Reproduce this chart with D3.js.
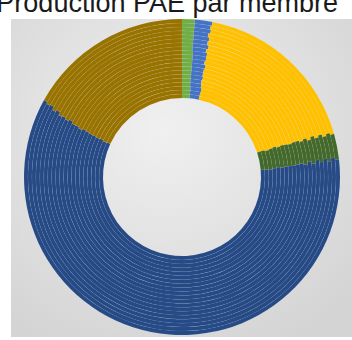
<!DOCTYPE html>
<html>
<head>
<meta charset="utf-8">
<script src="https://cdn.jsdelivr.net/npm/d3@7"></script>
<style>
    body { margin: 0; background: #ffffff; }
    svg { display: block; }
</style>
</head>
<body>
<div class="canvas"></div>
<script>
// one entry per member, drawn clockwise from 12 o'clock
const membres = ["Membre 1", "Membre 2", "Membre 3", "Membre 4", "Membre 5", "Membre 6"];
const couleurs = ["#70AD47", "#4472C4", "#FFC000", "#43682B", "#264A86", "#997300"];

// share (%) of each member, one value per ring, innermost ring first
const membre1 = [1.5, 1.5, 1.5, 1.4, 1.4, 1.4, 1.4, 1.4, 1.4, 1.4, 1.4, 1.4, 1.3, 1.3, 1.3, 1.3, 1.3, 1.3, 1.3, 1.3];
const membre2 = [1.9, 1.9, 2.0, 1.9, 1.8, 1.9, 1.8, 1.8, 1.9, 1.7, 1.8, 1.8, 1.7, 1.9, 1.7, 1.8, 1.6, 1.8, 1.7, 1.8];
const membre3 = [16.6, 16.6, 16.7, 16.8, 16.8, 16.9, 16.9, 17.0, 17.0, 17.1, 17.0, 17.2, 17.2, 17.3, 17.2, 17.4, 17.4, 17.5, 17.4, 17.5];
const membre4 = [3.6, 3.6, 3.5, 3.4, 3.4, 3.3, 3.3, 3.2, 3.1, 3.1, 3.0, 3.0, 2.9, 2.9, 2.8, 2.8, 2.7, 2.7, 2.6, 2.6];
const membre5 = [58.3, 58.2, 58.3, 58.4, 58.6, 58.5, 58.7, 58.8, 58.6, 58.9, 59.0, 59.1, 59.2, 59.1, 59.4, 59.5, 59.6, 59.7, 59.9, 59.9];
const membre6 = [18.1, 18.2, 18.0, 18.1, 18.0, 18.0, 17.9, 17.8, 18.0, 17.8, 17.8, 17.5, 17.7, 17.5, 17.6, 17.2, 17.4, 17.0, 17.1, 16.9];

const titre = "Production PAE par membre";

const series = [membre1, membre2, membre3, membre4, membre5, membre6];
const nbAnneaux = membre1.length;

const width = 352, height = 340;
const center = {x: 182, y: 177};
const rayon = {inner: 79, outer: 158};

const svg = d3.select(".canvas").append("svg")
    .attr("width", width)
    .attr("height", height);

// background panel with soft light gradient
const defs = svg.append("defs");
const grad = defs.append("radialGradient")
    .attr("id", "fond")
    .attr("cx", "45%").attr("cy", "35%").attr("r", "75%");
grad.append("stop").attr("offset", "0%").attr("stop-color", "#f0f0f0");
grad.append("stop").attr("offset", "100%").attr("stop-color", "#d4d4d4");

svg.append("rect")
    .attr("x", 11).attr("y", 19)
    .attr("width", width - 11).attr("height", 318)
    .attr("fill", "url(#fond)");

// title sits partly above the top edge, as in the source picture
svg.append("text")
    .attr("x", 338)
    .attr("y", 12)
    .attr("text-anchor", "end")
    .style("font-family", "'Liberation Sans', Arial, sans-serif")
    .style("font-size", "27px")
    .style("fill", "#1a1a1a")
    .text(titre);

const r = d3.scaleLinear()
    .domain([0, nbAnneaux])
    .range([rayon.inner, rayon.outer]);

const color = d3.scaleOrdinal()
    .domain(membres)
    .range(couleurs);

const pie = d3.pie()
    .sort(null)
    .value(d => d.value);

const graph = svg.append("g")
    .attr("transform", `translate(${center.x}, ${center.y})`);

d3.range(nbAnneaux).forEach(i => {
    const rows = membres.map((m, j) => ({membre: m, value: series[j][i]}));
    const arc = d3.arc()
        .innerRadius(r(i))
        .outerRadius(r(i + 1));

    graph.append("g")
        .selectAll("path")
        .data(pie(rows))
        .enter()
        .append("path")
        .attr("d", arc)
        .style("fill", d => color(d.data.membre))
        .style("stroke", "rgba(255,255,255,0.07)")
        .style("stroke-width", 0.6);
});
</script>
</body>
</html>
